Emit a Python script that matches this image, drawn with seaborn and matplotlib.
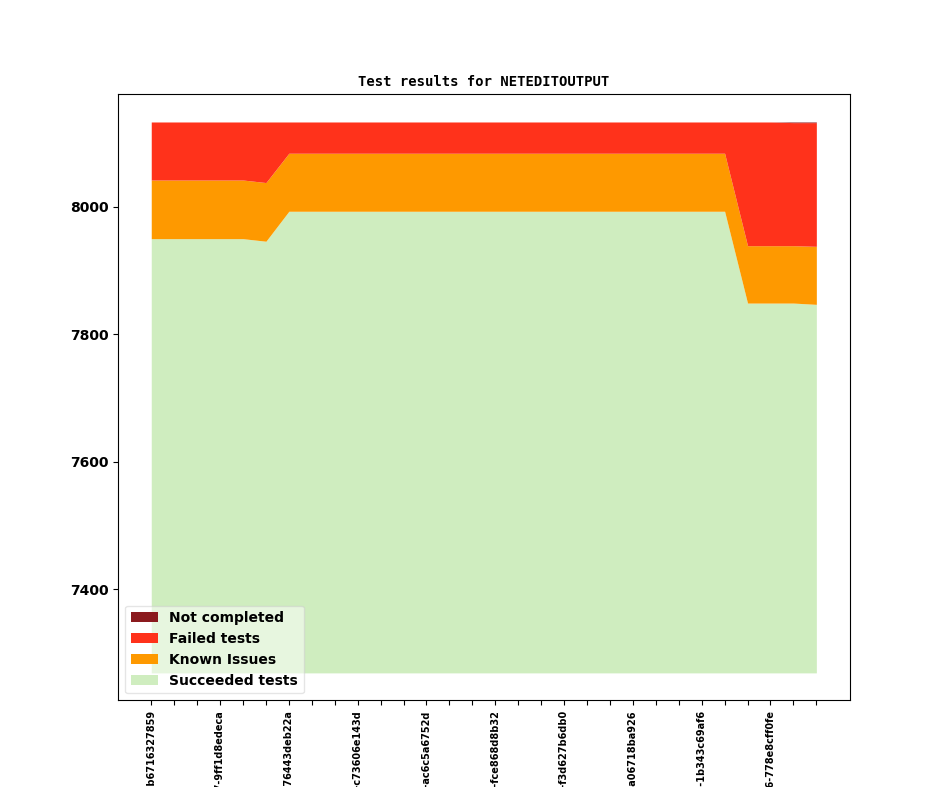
import numpy as np
import seaborn as sns
from matplotlib import pyplot as plt

# revisions (only every third one gets a label on the axis)
revisions = ['v1_20_0+0815-b6716327859', 'v1_20_0+0837-9ff1d8edeca', 'v1_20_0+0852-76443deb22a',
             'v1_20_0+0871-c73606e143d', 'v1_20_0+0890-ac6c5a6752d', 'v1_20_0+0911-fce868d8b32',
             'v1_20_0+0933-f3d627b6db0', 'v1_20_0+0950-a06718ba926', 'v1_20_0+0971-1b343c69af6',
             'v1_20_0+0996-778e8cff0fe']
label_every = 3

baseline = 7269
succeeded = [7950, 7950, 7950, 7950, 7950, 7946] + [7993] * 20 + [7849, 7849, 7849, 7847]
known_issues = [92, 92, 92, 92, 92, 92] + [91] * 20 + [90, 90, 90, 91]
failed = [91, 91, 91, 91, 91, 95] + [49] * 20 + [194, 194, 193, 194]
not_completed = [0] * 28 + [1, 1]

series_names = ['Succeeded tests', 'Known Issues', 'Failed tests', 'Not completed']
colors = sns.color_palette(['#cfedbf', '#fe9900', '#ff321b', '#8b1a1e'])

plt.rcParams['font.family'] = ['DejaVu Sans']
plt.rcParams['font.weight'] = 'bold'

fig, ax = plt.subplots(figsize=(9.44, 7.87), dpi=100)

n = len(succeeded)
x = np.arange(n)
lower = np.full(n, baseline, dtype=float)
handles = []
for name, vals, color in zip(series_names, [succeeded, known_issues, failed, not_completed], colors):
    if name == 'Succeeded tests':
        upper = np.array(vals, dtype=float)
    else:
        upper = lower + np.array(vals, dtype=float)
    h = ax.fill_between(x, lower, upper, color=color, linewidth=0, label=name)
    handles.append(h)
    lower = upper

ax.set_title('Test results for NETEDITOUTPUT', family='monospace', fontsize=10, fontweight='bold')
ax.set_yticks([7400, 7600, 7800, 8000])
ax.tick_params(axis='y', labelsize=10)

ticklabels = [''] * n
for i, rev in enumerate(revisions):
    ticklabels[i * label_every] = rev
ax.set_xticks(x)
ax.set_xticklabels(ticklabels, rotation=90, fontsize=7, fontweight='bold')

ax.legend(handles[::-1], [h.get_label() for h in handles[::-1]], loc='lower left',
          prop={'weight': 'bold', 'size': 10}, framealpha=0.5)

fig.savefig('out.png', dpi=100)
